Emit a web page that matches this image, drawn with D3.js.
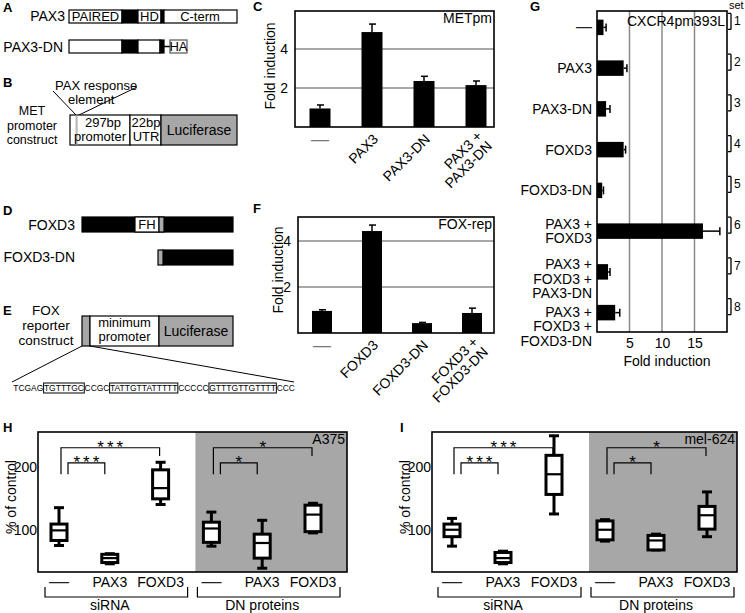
<!DOCTYPE html>
<html>
<head>
<meta charset="utf-8">
<script src="https://cdn.jsdelivr.net/npm/d3@7"></script>
<style>
  body { margin: 0; background: #fff; }
  svg { display: block; font-family: "Liberation Sans", Arial, Helvetica, sans-serif; }
</style>
</head>
<body>
<svg id="fig"></svg>
<script>
// ---- data ----
// C: MET promoter
var metCategories = [["—"], ["PAX3"], ["PAX3-DN"], ["PAX3 +", "PAX3-DN"]];
var metValues = [0.95, 4.87, 2.36, 2.15];
var metErrors = [0.18, 0.41, 0.24, 0.21];
var metTicks = [2, 4];

// F: FOX reporter
var foxCategories = [["—"], ["FOXD3"], ["FOXD3-DN"], ["FOXD3 +", "FOXD3-DN"]];
var foxValues = [0.96, 4.43, 0.43, 0.87];
var foxErrors = [0.05, 0.26, 0.03, 0.21];
var foxTicks = [2, 4];

// G: CXCR4pm393L
var cxcrLabels = [["—"], ["PAX3"], ["PAX3-DN"], ["FOXD3"], ["FOXD3-DN"],
  ["PAX3 +", "FOXD3"], ["PAX3 +", "FOXD3 +", "PAX3-DN"], ["PAX3 +", "FOXD3 +", "FOXD3-DN"]];
var cxcrValues = [1.0, 4.1, 1.4, 4.1, 0.8, 16.3, 1.7, 2.8];
var cxcrErrors = [0.4, 0.5, 0.6, 0.3, 0.2, 2.6, 0.3, 0.7];
var cxcrSets = ["1", "2", "3", "4", "5", "6", "7", "8"];
var cxcrTicks = [5, 10, 15];

// H / I: box plots [min, q1, median, q3, max]
var boxCategories = ["—", "PAX3", "FOXD3", "—", "PAX3", "FOXD3"];
var boxGroups = ["siRNA", "DN proteins"];
var boxTicks = [100, 200];
var a375Stats = [
  [75, 83, 99, 109, 135],
  [46, 48, 55, 61, 62],
  [140, 149, 166, 195, 207],
  [74, 80, 102, 112, 128],
  [39, 55, 79, 93, 115],
  [95, 97, 124, 139, 142]
];
var mel624Stats = [
  [74, 89, 100, 109, 118],
  [46, 48, 55, 64, 66],
  [125, 156, 188, 218, 249],
  [82, 84, 100, 114, 116],
  [68, 68, 83, 91, 93],
  [89, 101, 123, 137, 160]
];
var sigPairs = [[0, 2], [0, 1], [3, 5], [3, 4]];
var sigStars = ["***", "***", "*", "*"];

// sequence of the FOX reporter
var seqParts = ["TCGAG", "TGTTTGC", "CCGC", "TATTGTTATTTTT", "CCCCC", "GTTTGTTGTTTT", "CCC"];
var seqBoxed = [false, true, false, true, false, true, false];

var GRAY = "#a7a7a7";
var svg = d3.select("#fig").attr("width", 745).attr("height", 613);

function text(g, x, y, s, size, anchor, extra) {
  var t = g.append("text").attr("x", x).attr("y", y)
    .attr("font-size", size || 14)
    .attr("text-anchor", anchor || "start")
    .text(s);
  if (extra) t.attr("font-weight", extra);
  return t;
}
function seg(g, x0, x1, y0, y1, fill, stroke) {
  g.append("rect").attr("x", x0).attr("y", y0)
    .attr("width", x1 - x0).attr("height", y1 - y0)
    .attr("fill", fill).attr("stroke", stroke || "#000").attr("stroke-width", 1.2);
}
function line(g, x1, y1, x2, y2, w, col) {
  g.append("line").attr("x1", x1).attr("y1", y1).attr("x2", x2).attr("y2", y2)
    .attr("stroke", col || "#000").attr("stroke-width", w || 1.2);
}

// panel letters
[["A", 3, 12], ["B", 3, 87], ["C", 253, 11], ["D", 3, 215], ["E", 3, 315],
 ["F", 253, 213], ["G", 530, 11], ["H", 3, 432], ["I", 400, 432]].forEach(function(p) {
  text(svg, p[1], p[2], p[0], 13, "start", "bold");
});

// ---- A: PAX3 constructs ----
var gA = svg.append("g");
text(gA, 65, 21, "PAX3", 14, "end");
seg(gA, 69, 122, 10, 23, "#fff"); seg(gA, 122, 138, 10, 23, "#000");
seg(gA, 138, 161, 10, 23, "#fff"); seg(gA, 161, 164, 10, 23, "#000");
seg(gA, 164, 237, 10, 23, "#fff");
text(gA, 95.5, 21, "PAIRED", 13, "middle");
text(gA, 149.5, 21, "HD", 13, "middle");
text(gA, 200, 21, "C-term", 13, "middle");

text(gA, 63, 52, "PAX3-DN", 14, "end");
seg(gA, 69, 122, 40, 53, "#fff"); seg(gA, 122, 138, 40, 53, "#000");
seg(gA, 138, 160, 40, 53, "#fff"); seg(gA, 160, 164, 40, 53, "#000");
line(gA, 164, 46.5, 170, 46.5, 1.5);
seg(gA, 170, 187, 40, 53, "#fff", "#555");
text(gA, 178.5, 51, "HA", 13, "middle");

// ---- B: MET promoter construct ----
var gB = svg.append("g");
text(gB, 55, 90, "PAX response", 13);
text(gB, 68, 104, "element", 13);
line(gB, 53, 91, 76, 115, 1);
line(gB, 137, 87, 79, 115, 1);
text(gB, 32, 115, "MET", 12.5, "middle");
text(gB, 32, 129.5, "promoter", 12.5, "middle");
text(gB, 32, 144, "construct", 12.5, "middle");
seg(gB, 70, 130, 115, 145, "#fff");
seg(gB, 130, 161, 115, 145, "#fff");
seg(gB, 161, 237, 115, 145, GRAY);
gB.append("rect").attr("x", 75.5).attr("y", 115.6).attr("width", 2.2).attr("height", 28.8).attr("fill", "#bbb");
text(gB, 103, 127, "297bp", 13, "middle");
text(gB, 100, 141, "promoter", 13, "middle");
text(gB, 146, 127, "22bp", 13, "middle");
text(gB, 146, 141, "UTR", 13, "middle");
text(gB, 199, 135, "Luciferase", 14, "middle");

// ---- D: FOXD3 constructs ----
var gD = svg.append("g");
text(gD, 75, 230, "FOXD3", 14, "end");
seg(gD, 82, 233, 217, 232, "#000");
seg(gD, 135, 159, 217, 232, "#fff");
seg(gD, 159, 164, 217, 232, "#aaa");
text(gD, 147, 229, "FH", 13, "middle");
text(gD, 75, 262, "FOXD3-DN", 14, "end");
seg(gD, 163, 233, 250, 265, "#000");
seg(gD, 158, 163, 250, 265, "#aaa");

// ---- E: FOX reporter construct ----
var gE = svg.append("g");
text(gE, 46, 315, "FOX", 13.5, "middle");
text(gE, 46, 329.5, "reporter", 13.5, "middle");
text(gE, 46, 345, "construct", 13.5, "middle");
seg(gE, 82, 90, 316, 346, GRAY);
seg(gE, 90, 159, 316, 346, "#fff");
seg(gE, 159, 233, 316, 346, GRAY);
text(gE, 124.5, 327, "minimum", 13, "middle");
text(gE, 124.5, 341, "promoter", 13, "middle");
text(gE, 196, 336, "Luciferase", 14, "middle");
line(gE, 82, 346, 12, 382, 1);
line(gE, 90, 346, 294, 382, 1);

// sequence, scaled to span 13..295
(function() {
  var gs = gE.append("g");
  var widths = seqParts.map(function(s) {
    var t = gs.append("text").attr("font-size", 9).text(s);
    var w = t.node().getComputedTextLength();
    t.remove();
    return w;
  });
  var k = (295 - 13) / d3.sum(widths);
  var x0 = 13;
  seqParts.forEach(function(s, i) {
    var w = widths[i] * k;
    gs.append("text").attr("x", x0 + 0.3).attr("y", 391).attr("font-size", 9)
      .attr("textLength", w - 0.6).attr("lengthAdjust", "spacingAndGlyphs").text(s);
    if (seqBoxed[i]) {
      gs.append("rect").attr("x", x0).attr("y", 383).attr("width", w).attr("height", 10)
        .attr("fill", "none").attr("stroke", "#000").attr("stroke-width", 1);
    }
    x0 += w;
  });
})();

// ---- C and F: vertical bar charts ----
function barPanel(cfg) {
  var g = svg.append("g");
  var x = d3.scalePoint().domain(d3.range(cfg.cats.length)).range(cfg.xr);
  var y = d3.scaleLinear().domain([0, cfg.ymax]).range([cfg.bottom, cfg.top]);

  g.selectAll(".grid").data(cfg.ticks).enter().append("line")
    .attr("x1", cfg.left).attr("x2", cfg.right)
    .attr("y1", function(d) { return y(d); }).attr("y2", function(d) { return y(d); })
    .attr("stroke", "#8a8a8a").attr("stroke-width", 1.5);

  var ax = g.append("g").attr("transform", "translate(" + cfg.left + ",0)")
    .call(d3.axisLeft(y).tickValues(cfg.ticks).tickSize(0).tickPadding(7).tickFormat(d3.format("d")));
  ax.select(".domain").remove();
  ax.selectAll("text").attr("font-size", 14).attr("font-family", null).attr("fill", "#000");

  g.append("text").attr("transform", "translate(" + cfg.ylabX + "," + cfg.ylabY + ") rotate(-90)")
    .attr("text-anchor", "middle").attr("font-size", 14).text("Fold induction");

  var bw = cfg.bw;
  g.selectAll(".bar").data(cfg.values).enter().append("rect")
    .attr("x", function(d, i) { return x(i) - bw / 2; })
    .attr("y", function(d) { return y(d); })
    .attr("width", bw)
    .attr("height", function(d) { return y(0) - y(d); })
    .attr("fill", "#000");

  cfg.values.forEach(function(v, i) {
    var top = y(v + cfg.errors[i]);
    line(g, x(i), y(v), x(i), top, 1.5);
    line(g, x(i) - 3, top, x(i) + 4, top, 1.5);
  });

  cfg.cats.forEach(function(lines, i) {
    var cx = x(i);
    if (lines[0] === "—") {
      text(g, cx, cfg.bottom + 18, "—", 18, "middle").attr("fill", "#777");
      return;
    }
    var t = g.append("text")
      .attr("transform", "translate(" + (cx + 7) + "," + (cfg.bottom + (lines.length > 1 ? 10 : 13)) + ") rotate(-45)")
      .attr("text-anchor", "end").attr("font-size", 14);
    lines.forEach(function(l, j) {
      t.append("tspan").attr("x", 0).attr("dy", j ? "1em" : 0).text(l);
    });
  });

  text(g, cfg.right - 2, cfg.top + 12, cfg.title, 14, "end");

  g.append("rect").attr("x", cfg.left).attr("y", cfg.top)
    .attr("width", cfg.right - cfg.left).attr("height", cfg.bottom - cfg.top)
    .attr("fill", "none").attr("stroke", "#000").attr("stroke-width", 1.6);
}

barPanel({ cats: metCategories, values: metValues, errors: metErrors, ticks: metTicks,
  left: 295, right: 494, top: 11, bottom: 127, ymax: 5.95, xr: [320, 476], bw: 21,
  ylabX: 275, ylabY: 66, title: "METpm" });
barPanel({ cats: foxCategories, values: foxValues, errors: foxErrors, ticks: foxTicks,
  left: 298, right: 494, top: 217, bottom: 333, ymax: 5.04, xr: [322, 472], bw: 20,
  ylabX: 283, ylabY: 270, title: "FOX-rep" });

// ---- G: horizontal bar chart ----
(function() {
  var g = svg.append("g");
  var L = 597, R = 727, T = 11, B = 332;
  var n = cxcrValues.length;
  var x = d3.scaleLinear().domain([0, 20]).range([L, R]);
  var y = d3.scaleBand().domain(d3.range(n)).range([7, 333])
    .paddingInner(0.62).paddingOuter(0.31);

  g.selectAll(".grid").data(cxcrTicks).enter().append("line")
    .attr("x1", function(d) { return x(d); }).attr("x2", function(d) { return x(d); })
    .attr("y1", T).attr("y2", B).attr("stroke", "#8a8a8a").attr("stroke-width", 1.5);

  var ax = g.append("g").attr("transform", "translate(0," + B + ")")
    .call(d3.axisBottom(x).tickValues(cxcrTicks).tickSize(0).tickPadding(6));
  ax.select(".domain").remove();
  ax.selectAll("text").attr("font-size", 14).attr("font-family", null).attr("fill", "#000");
  text(g, 667, 366, "Fold induction", 14, "middle");

  text(g, R - 2, 26, "CXCR4pm393L", 14, "end");

  g.selectAll(".bar").data(cxcrValues).enter().append("rect")
    .attr("x", x(0)).attr("y", function(d, i) { return y(i); })
    .attr("width", function(d) { return x(d) - x(0); })
    .attr("height", y.bandwidth()).attr("fill", "#000");

  cxcrValues.forEach(function(v, i) {
    var c = y(i) + y.bandwidth() / 2;
    var e = x(v + cxcrErrors[i]);
    line(g, x(v), c, e, c, 1.5);
    line(g, e, c - 4, e, c + 4, 1.5);

    var lines = cxcrLabels[i];
    if (lines[0] === "—") {
      text(g, 592, c + 5, "—", 16, "end").attr("fill", "#222");
    } else {
      // multi-line labels hang from the bar; the bottom one drops below to clear its neighbour
      var first = c + 5 - (lines.length > 1 ? 7.5 : 0) + (i === n - 1 ? 6.5 : 0);
      lines.forEach(function(l, j) { text(g, 592, first + j * 14.5, l, 14, "end"); });
    }

    // set brackets
    var bt = c - 14, bb = c + 2;
    line(g, 731, bt, 731, bb, 1.3);
    line(g, 728, bt, 731, bt, 1.3);
    line(g, 728, bb, 731, bb, 1.3);
    text(g, 734, c - 2, cxcrSets[i], 12, "start");
  });
  text(g, 729, 9, "set", 11, "start");

  g.append("rect").attr("x", L).attr("y", T).attr("width", R - L).attr("height", B - T)
    .attr("fill", "none").attr("stroke", "#000").attr("stroke-width", 1.6);
})();

// ---- H and I: box plots ----
function boxPanel(cfg) {
  var g = svg.append("g");
  var stats = cfg.stats;
  var x = d3.scalePoint().domain(d3.range(stats.length)).range(cfg.xr);
  var y = d3.scaleLinear().domain([33, 255]).range([cfg.bottom, cfg.top]);
  var split = x(3) - 16;

  g.append("rect").attr("x", split).attr("y", cfg.top)
    .attr("width", cfg.right - split).attr("height", cfg.bottom - cfg.top).attr("fill", GRAY);

  var ax = g.append("g").attr("transform", "translate(" + cfg.left + ",0)")
    .call(d3.axisLeft(y).tickValues(boxTicks).tickSize(0).tickPadding(1));
  ax.select(".domain").remove();
  ax.selectAll("text").attr("font-size", 14).attr("font-family", null).attr("fill", "#000");
  g.append("text").attr("transform", "translate(" + (cfg.left - 22) + ",497) rotate(-90)")
    .attr("text-anchor", "middle").attr("font-size", 14).text("% of control");

  var bw = 16, cw = 10;
  var b = g.selectAll(".box").data(stats).enter().append("g")
    .attr("stroke", "#000").attr("stroke-width", 3);
  b.append("line").attr("x1", function(d, i) { return x(i); }).attr("x2", function(d, i) { return x(i); })
    .attr("y1", function(d) { return y(d[0]); }).attr("y2", function(d) { return y(d[4]); });
  [0, 4].forEach(function(k) {
    b.append("line").attr("x1", function(d, i) { return x(i) - cw / 2; })
      .attr("x2", function(d, i) { return x(i) + cw / 2; })
      .attr("y1", function(d) { return y(d[k]); }).attr("y2", function(d) { return y(d[k]); });
  });
  b.append("rect").attr("x", function(d, i) { return x(i) - bw / 2; })
    .attr("y", function(d) { return y(d[3]); })
    .attr("width", bw).attr("height", function(d) { return y(d[1]) - y(d[3]); })
    .attr("fill", "#fff");
  b.append("line").attr("x1", function(d, i) { return x(i) - bw / 2; })
    .attr("x2", function(d, i) { return x(i) + bw / 2; })
    .attr("y1", function(d) { return y(d[2]); }).attr("y2", function(d) { return y(d[2]); })
    .attr("stroke-width", 2.2);

  // significance brackets: wide one then narrow one in each group
  sigPairs.forEach(function(p, k) {
    var wide = (p[1] - p[0]) === 2;
    var xa = x(p[0]) + (wide ? 2 : 9);
    var xb = x(p[1]) - (wide ? 1 : 5);
    var top = y(wide ? 230 : 206);
    var legB = y(wide ? 217 : 188);
    var legA = y(188);
    var path = d3.path();
    path.moveTo(xa, legA); path.lineTo(xa, top); path.lineTo(xb, top); path.lineTo(xb, legB);
    g.append("path").attr("d", path.toString()).attr("fill", "none")
      .attr("stroke", "#000").attr("stroke-width", 1.2);
    text(g, (xa + xb) / 2 + 1.5, top + 5, sigStars[k], 17, "middle")
      .attr("letter-spacing", 3);
  });

  text(g, cfg.right - 2, cfg.top + 12, cfg.title, 14, "end");

  g.append("rect").attr("x", cfg.left).attr("y", cfg.top)
    .attr("width", cfg.right - cfg.left).attr("height", cfg.bottom - cfg.top)
    .attr("fill", "none").attr("stroke", "#000").attr("stroke-width", 1.6);

  // category labels
  boxCategories.forEach(function(c, i) {
    if (c === "—") text(g, x(i), cfg.bottom + 16, "—", 20, "middle").attr("fill", "#222");
    else text(g, x(i), cfg.bottom + 15, c, 14, "middle");
  });
  // group brackets
  boxGroups.forEach(function(name, k) {
    var xa = x(k * 3) - 14, xb = x(k * 3 + 2) + 27;
    var yb = cfg.bottom + 25;
    var path = d3.path();
    path.moveTo(xa, yb - 10); path.lineTo(xa, yb); path.lineTo(xb, yb); path.lineTo(xb, yb - 10);
    g.append("path").attr("d", path.toString()).attr("fill", "none")
      .attr("stroke", "#000").attr("stroke-width", 1.2);
    text(g, x(k * 3 + 1), cfg.bottom + 38, name, 14, "middle");
  });
}

boxPanel({ stats: a375Stats, left: 38, right: 347, top: 432, bottom: 572, xr: [59, 313], title: "A375" });
boxPanel({ stats: mel624Stats, left: 432, right: 737, top: 432, bottom: 572, xr: [452, 707], title: "mel-624" });
</script>
</body>
</html>
